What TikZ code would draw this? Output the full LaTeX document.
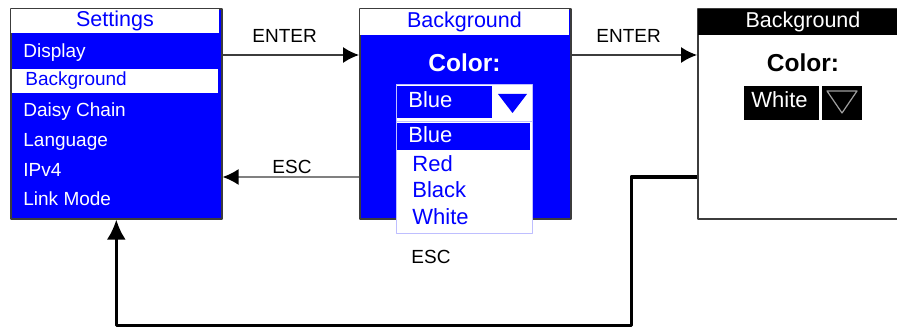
\documentclass[tikz,border=0pt]{standalone}
\usepackage{fontspec}
\setmainfont{Liberation Sans}
\usetikzlibrary{arrows.meta}
\definecolor{scrblue}{RGB}{0,0,255}
\definecolor{listedge}{RGB}{190,190,255}
\definecolor{frame}{RGB}{60,60,60}

\begin{document}
\begin{tikzpicture}[
  x={(0.5pt,0pt)},
  y={(0pt,-0.5pt)},
  >=Latex,
  line join=round,
  screen/.style={draw=frame,line width=0.8pt,anchor=north west,
    minimum width=105.5pt,minimum height=105pt,inner sep=0pt},
  title/.style={inner sep=0pt,anchor=base,font=\fontsize{10.75}{12}\selectfont},
  heading/.style={inner sep=0pt,anchor=base,font=\fontsize{12.25}{14}\selectfont\bfseries},
  item/.style={inner sep=0pt,anchor=base west,font=\fontsize{9.5}{11}\selectfont},
  choice/.style={inner sep=0pt,anchor=base west,font=\fontsize{11}{13}\selectfont},
  keylabel/.style={inner sep=0pt,anchor=base west,font=\fontsize{9.5}{11}\selectfont},
  keyarrow/.style={draw=frame,line width=0.75pt,-{Latex[length=8pt,width=8pt,color=black]}},
  backarrow/.style={draw=black,line width=1.5pt,-{Latex[length=10pt,width=9.5pt]}}
]
  \clip (0,0) rectangle (897,331);

  % settings menu
  \node[screen,fill=scrblue] (settings) at (10,8) {};
  \fill[white] (11,9) rectangle (219,33);
  \node[title,text=scrblue] (settingstitle) at (115,26.5) {Settings};
  \fill[white] (12,69) rectangle (218,93);
  \node[item,text=scrblue] (background) at (25,86) {Background};
  \foreach \name/\y/\label in {
    display/57.5/Display,
    daisy/117/Daisy Chain,
    language/146.5/Language,
    ipv/176.5/IPv4,
    linkmode/205.5/Link Mode
  } {
    \node[item,text=white] (\name) at (23,\y) {\label};
  }

  % colour selection, list open
  \node[screen,fill=scrblue] (colorscr) at (359,8) {};
  \fill[white] (360,9) rectangle (569,35);
  \node[title,text=scrblue] (colortitle) at (464.5,28) {Background};
  \node[heading,text=white] (colorlabel) at (464.5,71.5) {Color:};
  \draw[listedge,fill=white] (396,84) rectangle (532,233);
  \fill[scrblue] (397,86) rectangle (492,118);
  \fill[scrblue] (498,94) -- (527,94) -- (512.5,113) -- cycle;
  \draw[listedge] (396,121) -- (532,121);
  \fill[scrblue] (397,123) rectangle (530,150);
  \node[choice,text=white] (current) at (408,108) {Blue};
  \node[choice,text=white] (optblue) at (408,143) {Blue};
  \foreach \name/\y/\label in {
    optred/171.5/Red,
    optblack/198/Black,
    optwhite/224.5/White
  } {
    \node[choice,text=scrblue] (\name) at (412,\y) {\label};
  }

  % colour selection, white chosen
  \node[screen,fill=white] (whitescr) at (697,8) {};
  \fill[black] (698,9) rectangle (897,35);
  \node[title,text=white] (whitetitle) at (803,28) {Background};
  \node[heading] (whitelabel) at (803,71.5) {Color:};
  \fill[black] (744,86) rectangle (819,120);
  \fill[black] (822,86) rectangle (862,120);
  \draw[gray!75,line width=0.6pt] (827,91) -- (857,91) -- (842,113) -- cycle;
  \node[choice,text=white] (whitechoice) at (751,108) {White};

  % keys
  \node[keylabel] (enterone) at (252,43) {ENTER};
  \node[keylabel] (entertwo) at (596,43) {ENTER};
  \node[keylabel] (escone) at (272,173) {ESC};
  \node[keylabel] (esctwo) at (411,263) {ESC};

  \draw[keyarrow] ([yshift=-23.5pt]settings.north east) -- ([yshift=-23.5pt]colorscr.north west);
  \draw[keyarrow] ([yshift=-23.5pt]colorscr.north east) -- ([yshift=-23.5pt]whitescr.north west);
  \draw[keyarrow,draw=gray] ([yshift=-84.5pt]colorscr.north west) -- ([yshift=-84.5pt]settings.north east);

  \coordinate (loopcorner) at (631,325);
  \draw[backarrow] ([yshift=-84.5pt]whitescr.north west) -| (loopcorner) -| (settings.south);
\end{tikzpicture}
\end{document}
